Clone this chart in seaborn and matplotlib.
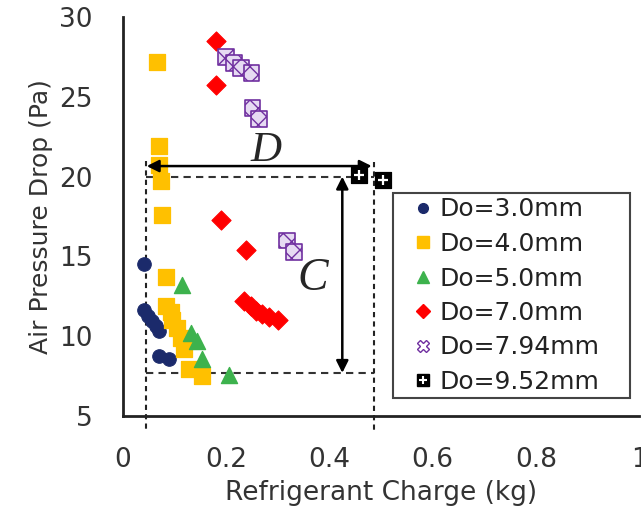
import matplotlib
matplotlib.use("Agg")
import matplotlib.pyplot as plt
import seaborn as sns
import pandas as pd
from matplotlib.lines import Line2D
from matplotlib.legend_handler import HandlerTuple

# ---- data ----
do30_x = [0.041, 0.041, 0.049, 0.056, 0.064, 0.070, 0.070, 0.089]
do30_y = [14.5, 11.67, 11.29, 10.97, 10.66, 10.35, 8.77, 8.58]

do40_x = [0.066, 0.070, 0.070, 0.074, 0.076, 0.083, 0.083, 0.093, 0.095, 0.105, 0.113, 0.118, 0.128, 0.153]
do40_y = [27.2, 21.9, 20.7, 19.7, 17.6, 13.7, 11.9, 11.5, 11.0, 10.5, 9.9, 9.2, 7.95, 7.5]

do50_x = [0.115, 0.132, 0.144, 0.153, 0.206]
do50_y = [13.2, 10.2, 9.7, 8.6, 7.6]

do70_x = [0.181, 0.181, 0.190, 0.238, 0.235, 0.248, 0.258, 0.270, 0.283, 0.300]
do70_y = [28.5, 25.75, 17.3, 15.4, 12.2, 11.9, 11.6, 11.4, 11.2, 11.0]

do794_x = [0.200, 0.215, 0.229, 0.249, 0.251, 0.264, 0.318, 0.332]
do794_y = [27.5, 27.1, 26.8, 26.5, 24.3, 23.6, 16.0, 15.25]

do952_x = [0.458, 0.503]
do952_y = [20.1, 19.8]

labels = ["Do=3.0mm", "Do=4.0mm", "Do=5.0mm", "Do=7.0mm", "Do=7.94mm", "Do=9.52mm"]

x_ticks = [0, 0.2, 0.4, 0.6, 0.8, 1.0]
x_tick_labels = ["0", "0.2", "0.4", "0.6", "0.8", "1"]
y_ticks = [5, 10, 15, 20, 25, 30]

# annotation geometry (data units)
box_x = (0.045, 0.487)
box_y = (7.7, 20.0)
d_arrow_y = 20.66
d_arrow_x = (0.046, 0.482)
c_arrow_x = 0.425
d_label = (0.277, 21.6)
c_label = (0.367, 13.6)

# ---- figure ----
sns.set_theme(style="white")
plt.rcParams["font.family"] = ["DejaVu Sans"]

fig = plt.figure(figsize=(6.41, 5.11), dpi=100)
ax = fig.add_axes([123 / 641, 95 / 511, (639 - 123) / 641, 399 / 511])

series = [
    (do30_x, do30_y, dict(marker="o", color="#1B2A6B", s=95, edgecolor="#1B2A6B")),
    (do40_x, do40_y, dict(marker="s", color="#FFC000", s=130, edgecolor="#FFC000")),
    (do50_x, do50_y, dict(marker="^", color="#3DB24D", s=135, edgecolor="#3DB24D")),
    (do70_x, do70_y, dict(marker="D", color="#FF0000", s=95, edgecolor="#FF0000")),
    (do794_x, do794_y, dict(marker="s", color="#E6DAF2", s=130, edgecolor="#7030A0", hatch="xx", linewidth=1.2)),
    (do952_x, do952_y, dict(marker="s", color="black", s=120, edgecolor="black")),
]

for (xs, ys, kw), lab in zip(series, labels):
    df = pd.DataFrame({"x": xs, "y": ys})
    sns.scatterplot(data=df, x="x", y="y", ax=ax, legend=False, zorder=3, **kw)

# white cross inside the black squares (Do=9.52)
sns.scatterplot(data=pd.DataFrame({"x": do952_x, "y": do952_y}), x="x", y="y", ax=ax,
                marker="+", s=60, color="white", linewidth=1.6, legend=False, zorder=4)

# dashed box lines
dash = (0, (3.5, 2.5))
ax.plot([box_x[0], box_x[1]], [box_y[1], box_y[1]], ls=dash, color="#333333", lw=1.5, zorder=2)
ax.plot([box_x[0], box_x[1]], [box_y[0], box_y[0]], ls=dash, color="#333333", lw=1.5, zorder=2)
ax.plot([box_x[0], box_x[0]], [21.0, 4.0], ls=(0, (2.5, 2)), color="#222222", lw=1.5, zorder=2, clip_on=False)
ax.plot([box_x[1], box_x[1]], [20.9, 4.0], ls=(0, (2.5, 2)), color="#222222", lw=1.5, zorder=2, clip_on=False)

# arrows
ap = dict(arrowstyle="<|-|>", color="black", lw=1.8, mutation_scale=18, shrinkA=0, shrinkB=0)
ax.annotate("", xy=(d_arrow_x[1], d_arrow_y), xytext=(d_arrow_x[0], d_arrow_y), arrowprops=ap)
ax.annotate("", xy=(c_arrow_x, box_y[0]), xytext=(c_arrow_x, box_y[1]), arrowprops=ap)
ax.text(*d_label, "D", family="Liberation Serif", style="italic", fontsize=31, ha="center", va="center")
ax.text(*c_label, "C", family="Liberation Serif", style="italic", fontsize=33, ha="center", va="center")

# axes
ax.set_xlim(0, 1)
ax.set_ylim(5, 30)
ax.set_xticks(x_ticks)
ax.set_xticklabels(x_tick_labels)
ax.set_yticks(y_ticks)
ax.tick_params(direction="in", length=6, width=1.5, pad=22, labelsize=19, colors="#333333")
ax.tick_params(axis="both", color="#333333")
for side in ["top", "right"]:
    ax.spines[side].set_visible(False)
for side in ["left", "bottom"]:
    ax.spines[side].set_color("#222222")
    ax.spines[side].set_linewidth(2)
ax.set_xlabel("Refrigerant Charge (kg)", fontsize=19, color="#333333", labelpad=5)
ax.set_ylabel("Air Pressure Drop (Pa)", fontsize=18, color="#333333", labelpad=4)

# legend
def h(**kw):
    return Line2D([], [], linestyle="none", **kw)

handles = [
    h(marker="o", markersize=7, markerfacecolor="#1B2A6B", markeredgecolor="#1B2A6B"),
    h(marker="s", markersize=8, markerfacecolor="#FFC000", markeredgecolor="#FFC000"),
    h(marker="^", markersize=9, markerfacecolor="#3DB24D", markeredgecolor="#3DB24D"),
    h(marker="D", markersize=7, markerfacecolor="#FF0000", markeredgecolor="#FF0000"),
    h(marker="X", markersize=8, markerfacecolor="white", markeredgecolor="#7030A0"),
    (h(marker="s", markersize=8, markerfacecolor="black", markeredgecolor="black"),
     h(marker="+", markersize=6, markeredgecolor="white", markeredgewidth=1.5)),
]
leg = ax.legend(handles, labels, loc="upper left",
                bbox_to_anchor=(393 / 641, 1 - 400 / 511, 237 / 641, 207 / 511),
                bbox_transform=fig.transFigure, mode="expand", borderaxespad=0, fontsize=18,
                frameon=True, fancybox=False, framealpha=1, edgecolor="#444444",
                handlelength=2.0, handletextpad=-0.3, labelspacing=0.42, borderpad=0.18,
                handler_map={tuple: HandlerTuple(ndivide=1)})
leg.get_frame().set_linewidth(1.5)
for t in leg.get_texts():
    t.set_color("#222222")

fig.savefig("out.png", dpi=100)
